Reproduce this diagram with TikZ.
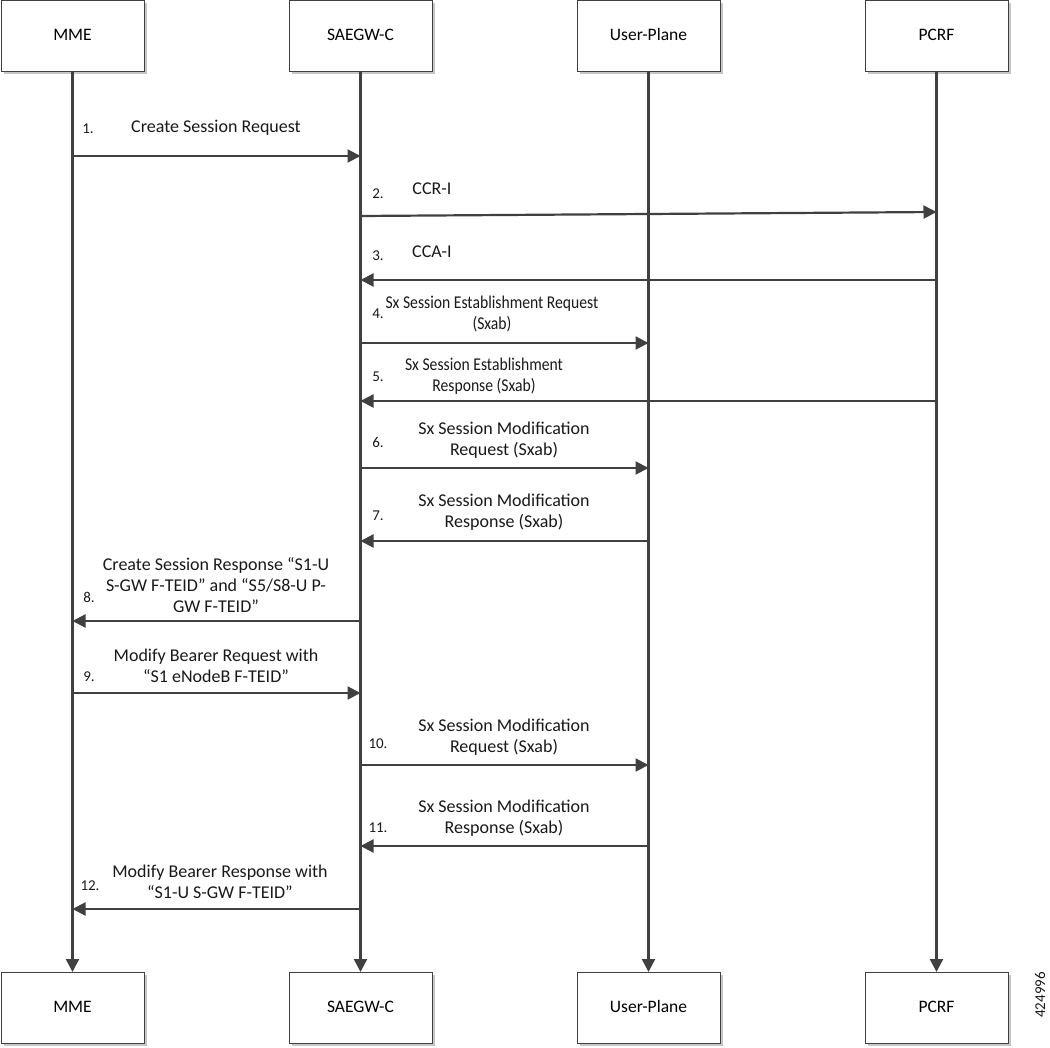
\documentclass[tikz,border=0pt]{standalone}
\usepackage{fontspec}
\setmainfont{Carlito}
\usetikzlibrary{arrows.meta,shadows}
\definecolor{ln}{HTML}{404040}
\begin{document}
\begin{tikzpicture}[x=1pt,y=-1pt,
  actor/.style={draw=ln, line width=1pt, fill=white, minimum width=143pt, minimum height=71pt, inner sep=0pt,
    font=\fontsize{17.5}{20}\selectfont, text height=12pt, text depth=3.5pt,
    drop shadow={shadow xshift=2.5pt, shadow yshift=-2.5pt, fill=gray!45, opacity=1}},
  life/.style={draw=ln, line width=2.2pt, -{Triangle[length=13pt,width=13pt]}},
  msg/.style={draw=ln, line width=2.2pt, -{Triangle[length=13pt,width=13pt]}},
  lbl/.style={align=center, font=\fontsize{18}{21}\selectfont, inner sep=0pt, text=black!90},
  lbls/.style={lbl, xscale=0.87, transform shape},
  num/.style={font=\fontsize{15}{17}\selectfont, inner sep=0pt, text=black!90}]
\useasboundingbox (0,0) rectangle (1050,1048);

% actors
\node[actor] (mmeT) at (72.5,36) {MME};
\node[actor] (sgwT) at (360.5,36) {SAEGW-C};
\node[actor] (upT)  at (648.5,36) {User-Plane};
\node[actor] (pcT)  at (936.5,36) {PCRF};
\node[actor] (mmeB) at (72.5,1008) {MME};
\node[actor] (sgwB) at (360.5,1008) {SAEGW-C};
\node[actor] (upB)  at (648.5,1008) {User-Plane};
\node[actor] (pcB)  at (936.5,1008) {PCRF};

% lifelines
\draw[life] (mmeT) -- (mmeB);
\draw[life] (sgwT) -- (sgwB);
\draw[life] (upT) -- (upB);
\draw[life] (pcT) -- (pcB);

% message end points
\def\xa{72.5}\def\xb{360.5}\def\xc{648.5}\def\xd{936.5}
\coordinate (m1s) at (\xa,156); \coordinate (m1e) at (\xb,156);
\coordinate (m2s) at (\xb,216); \coordinate (m2e) at (\xd,212);
\coordinate (m3s) at (\xd,280); \coordinate (m3e) at (\xb,280);
\coordinate (m4s) at (\xb,343); \coordinate (m4e) at (\xc,343);
\coordinate (m5s) at (\xd,401); \coordinate (m5e) at (\xb,401);
\coordinate (m6s) at (\xb,468); \coordinate (m6e) at (\xc,468);
\coordinate (m7s) at (\xc,541); \coordinate (m7e) at (\xb,541);
\coordinate (m8s) at (\xb,621); \coordinate (m8e) at (\xa,621);
\coordinate (m9s) at (\xa,693); \coordinate (m9e) at (\xb,693);
\coordinate (m10s) at (\xb,765); \coordinate (m10e) at (\xc,765);
\coordinate (m11s) at (\xc,846); \coordinate (m11e) at (\xb,846);
\coordinate (m12s) at (\xb,909); \coordinate (m12e) at (\xa,909);

\foreach \i in {1,...,12} {\draw[msg] (m\i s) -- (m\i e);}

% labels
\node[num] (n1) at (88,129) {1.};
\node[lbl] (l1) at (216,128) {Create Session Request};
\node[num] (n2) at (378,194) {2.};
\node[lbl] (l2) at (432,189) {CCR-I};
\node[num] (n3) at (378,256) {3.};
\node[lbl] (l3) at (432,252) {CCA-I};
\node[num] (n4) at (378,314) {4.};
\node[lbls] (l4) at (492,314.5) {Sx Session Establishment Request\\(Sxab)};
\node[num] (n5) at (378,377) {5.};
\node[lbls] (l5) at (484,376.5) {Sx Session Establishment\\Response (Sxab)};
\node[num] (n6) at (378,442) {6.};
\node[lbl] (l6) at (504,440.5) {Sx Session Modification\\Request (Sxab)};
\node[num] (n7) at (378,516) {7.};
\node[lbl] (l7) at (504,512.5) {Sx Session Modification\\Response (Sxab)};
\node[num] (n8) at (89,597) {8.};
\node[lbl] (l8) at (216,585) {Create Session Response “S1-U\\S-GW F-TEID” and “S5/S8-U P-\\GW F-TEID”};
\node[num] (n9) at (89,677) {9.};
\node[lbl] (l9) at (216,666) {Modify Bearer Request with\\“S1 eNodeB F-TEID”};
\node[num] (n10) at (378,744) {10.};
\node[lbl] (l10) at (504,737.5) {Sx Session Modification\\Request (Sxab)};
\node[num] (n11) at (378,828) {11.};
\node[lbl] (l11) at (504,818.5) {Sx Session Modification\\Response (Sxab)};
\node[num] (n12) at (90,886) {12.};
\node[lbl] (l12) at (220,881.5) {Modify Bearer Response with\\“S1-U S-GW F-TEID”};

\node[num, rotate=90] (fig) at (1040,995) {424996};
\end{tikzpicture}
\end{document}
